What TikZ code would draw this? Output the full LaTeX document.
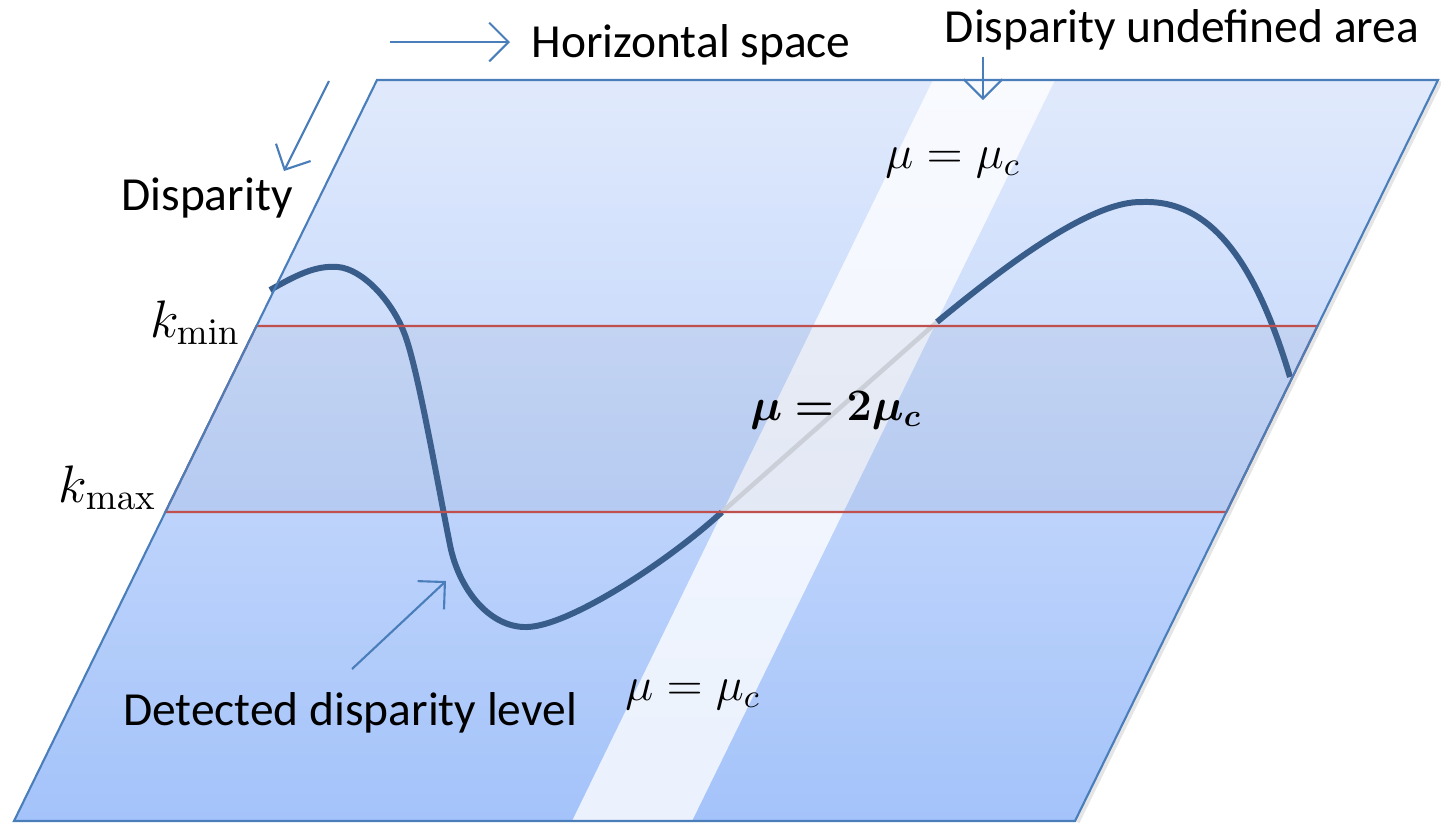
\RequirePackage{fix-cm}
\documentclass[tikz,border=0pt]{standalone}
\usepackage{amsmath,bm}
\usepackage[no-math]{fontspec}
\setmainfont{Carlito}
\usepackage{xcolor}
\usetikzlibrary{calc,arrows.meta,positioning}
\definecolor{planetop}{RGB}{225,234,252}
\definecolor{planebot}{RGB}{164,195,250}
\definecolor{edgeblue}{RGB}{74,126,187}
\definecolor{levelblue}{RGB}{56,93,138}
\definecolor{bandred}{RGB}{192,80,77}
\definecolor{bandshade}{RGB}{105,120,160}
\definecolor{hiddengray}{RGB}{212,216,222}

\begin{document}
\begin{tikzpicture}[x=0.01cm,y=-0.01cm,
  lbl/.style={font=\fontsize{13.5}{16}\selectfont,inner sep=0pt},
  mathlbl/.style={font=\fontsize{13.5}{16}\selectfont,inner sep=0pt},
  klbl/.style={font=\fontsize{15}{18}\selectfont,inner sep=0pt},
  pointer/.style={draw=edgeblue,line width=0.6pt,
    -{Straight Barb[length=5.5pt,width=11pt,line width=0.6pt]}},
  level/.style={draw=levelblue,line width=1.7pt}]
  \useasboundingbox (0,0) rectangle (1441,823);
  % Plane corners
  \coordinate (tl) at (377,80);
  \coordinate (tr) at (1438,80);
  \coordinate (br) at (1075,821);
  \coordinate (bl) at (14,821);
  % Band between k_min and k_max
  \coordinate (kmin-l) at ($(tl)!0.332!(bl)$);
  \coordinate (kmin-r) at ($(tr)!0.332!(br)$);
  \coordinate (kmax-l) at ($(tl)!0.583!(bl)$);
  \coordinate (kmax-r) at ($(tr)!0.583!(br)$);
  % Undefined stripe
  \coordinate (st-tl) at ($(tl)!0.524!(tr)$);
  \coordinate (st-tr) at ($(tl)!0.639!(tr)$);
  \coordinate (st-bl) at ($(bl)!0.526!(br)$);
  \coordinate (st-br) at ($(bl)!0.639!(br)$);
  % Plane
  \draw[black!10,line width=1.5pt] ([shift={(2,1)}]tr) -- ([shift={(2,1)}]br);
  \shade[top color=planetop,bottom color=planebot] (tl) -- (tr) -- (br) -- (bl) -- cycle;
  \fill[white,opacity=0.78] (st-tl) -- (st-tr) -- (st-br) -- (st-bl) -- cycle;
  % Detected level
  \coordinate (c-in) at (722,512);
  \coordinate (c-out) at (937,322);
  \draw[level] (270,290) .. controls (295,276) and (315,265) .. (338,267)
    .. controls (362,269) and (392,300) .. (405,335)
    .. controls (418,370) and (437,480) .. (450,545)
    .. controls (459,590) and (490,628) .. (527,627)
    .. controls (570,626) and (670,560) .. (c-in);
  \draw[hiddengray,line width=1.3pt] (c-in) -- (c-out);
  \draw[level] (c-out) .. controls (1000,270) and (1090,200) .. (1143,202)
    .. controls (1210,200) and (1255,260) .. (1290,377);
  % Band
  \fill[bandshade,opacity=0.09] (kmin-l) -- (kmin-r) -- (kmax-r) -- (kmax-l) -- cycle;
  \draw[bandred,line width=0.6pt] (kmin-l) -- (kmin-r) -- (kmax-r) -- (kmax-l) -- cycle;
  \draw[edgeblue,line width=0.6pt] (tl) -- (tr) -- (br) -- (bl) -- cycle;
  % Labels
  \node[klbl,anchor=base east] (kmin) at (241,337) {$k_{\min}$};
  \node[klbl,anchor=base east] (kmax) at (157,502) {$k_{\max}$};
  \node[mathlbl,anchor=base] (mu-top) at (953,168) {$\mu=\mu_c$};
  \node[mathlbl,anchor=base] (mu-bot) at (693,700) {$\mu=\mu_c$};
  \node[mathlbl,anchor=base,font=\fontsize{12.8}{16}\selectfont] (mu-band) at (836,420) {$\bm{\mu=2\mu_c}$};
  \node[lbl,anchor=west] (hspace) at (531,45) {Horizontal space};
  \node[lbl] (undef) at (1182,30) {Disparity undefined area};
  \node[lbl] (disp) at (207,198) {Disparity};
  \node[lbl] (detect) at (350,713) {Detected disparity level};
  % Pointers
  \coordinate (hs-tail) at (390,42);
  \coordinate (hs-head) at (510,42);
  \coordinate (ua-tail) at (983,57);
  \coordinate (ua-head) at (983,100);
  \coordinate (dp-tail) at (329,81);
  \coordinate (dp-head) at (284,171);
  \coordinate (dl-tail) at (352,669);
  \coordinate (dl-head) at (446,581);
  \draw[pointer] (hs-tail) -- (hs-head);
  \draw[pointer] (ua-tail) -- (ua-head);
  \draw[pointer] (dp-tail) -- (dp-head);
  \draw[pointer] (dl-tail) -- (dl-head);
\end{tikzpicture}
\end{document}
